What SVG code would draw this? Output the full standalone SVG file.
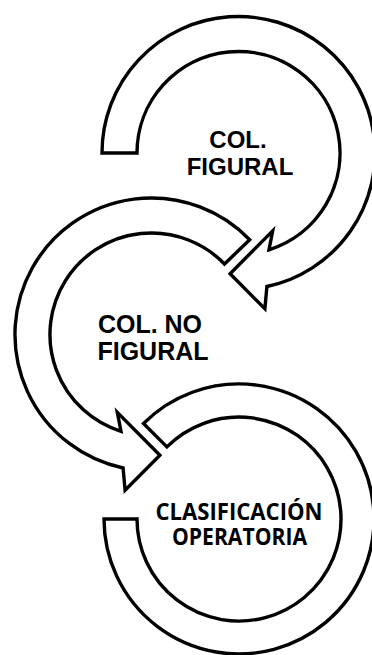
<svg xmlns="http://www.w3.org/2000/svg" width="372" height="655" viewBox="0 0 372 655">
<style>
.arrow{fill:#ffffff;stroke:#000000;stroke-width:3.4;stroke-linejoin:miter;stroke-miterlimit:10}
.t1{font-family:"Liberation Sans",Arial,sans-serif;font-weight:bold;fill:#000000;text-anchor:middle}
.t2{font-family:"Open Sans",Lato,"Liberation Sans",sans-serif;font-weight:bold;fill:#000000;text-anchor:middle}
</style>
<rect width="372" height="655" fill="#ffffff"/>
<g id="connectors">
<path id="arrow1" class="arrow" d="M102,153 A136.5,136.5 0 1 1 266.9,286.5 L264.9,308.8 L230.1,273.7 L272.7,230.8 L269,249.8 A101.5,101.5 0 1 0 137,153 Z"/>
<path id="arrow2" class="arrow" d="M249.7,239.7 A136.5,136.5 0 1 0 123.1,468 L125.1,490.3 L159.9,455.2 L117.3,412.3 L121,431.3 A101.5,101.5 0 1 1 224.5,264 Z"/>
<path id="arrow3" class="arrow" d="M104,519 A135,135 0 1 0 143.5,423.5 L166.9,446.9 A102,102 0 1 1 137,519 Z"/>
</g>
<g id="node-col-figural">
<text class="t1" x="238" y="148" font-size="24">COL.</text>
<text class="t1" x="240" y="175" font-size="24">FIGURAL</text>
</g>
<g id="node-col-no-figural">
<text class="t1" x="150" y="333" font-size="25">COL. NO</text>
<text class="t1" x="153" y="360" font-size="25">FIGURAL</text>
</g>
<g id="node-clasificacion">
<text class="t2" x="239" y="520" font-size="23" textLength="167" lengthAdjust="spacingAndGlyphs">CLASIFICACIÓN</text>
<text class="t2" x="239.5" y="545" font-size="23" textLength="135" lengthAdjust="spacingAndGlyphs">OPERATORIA</text>
</g>
</svg>
